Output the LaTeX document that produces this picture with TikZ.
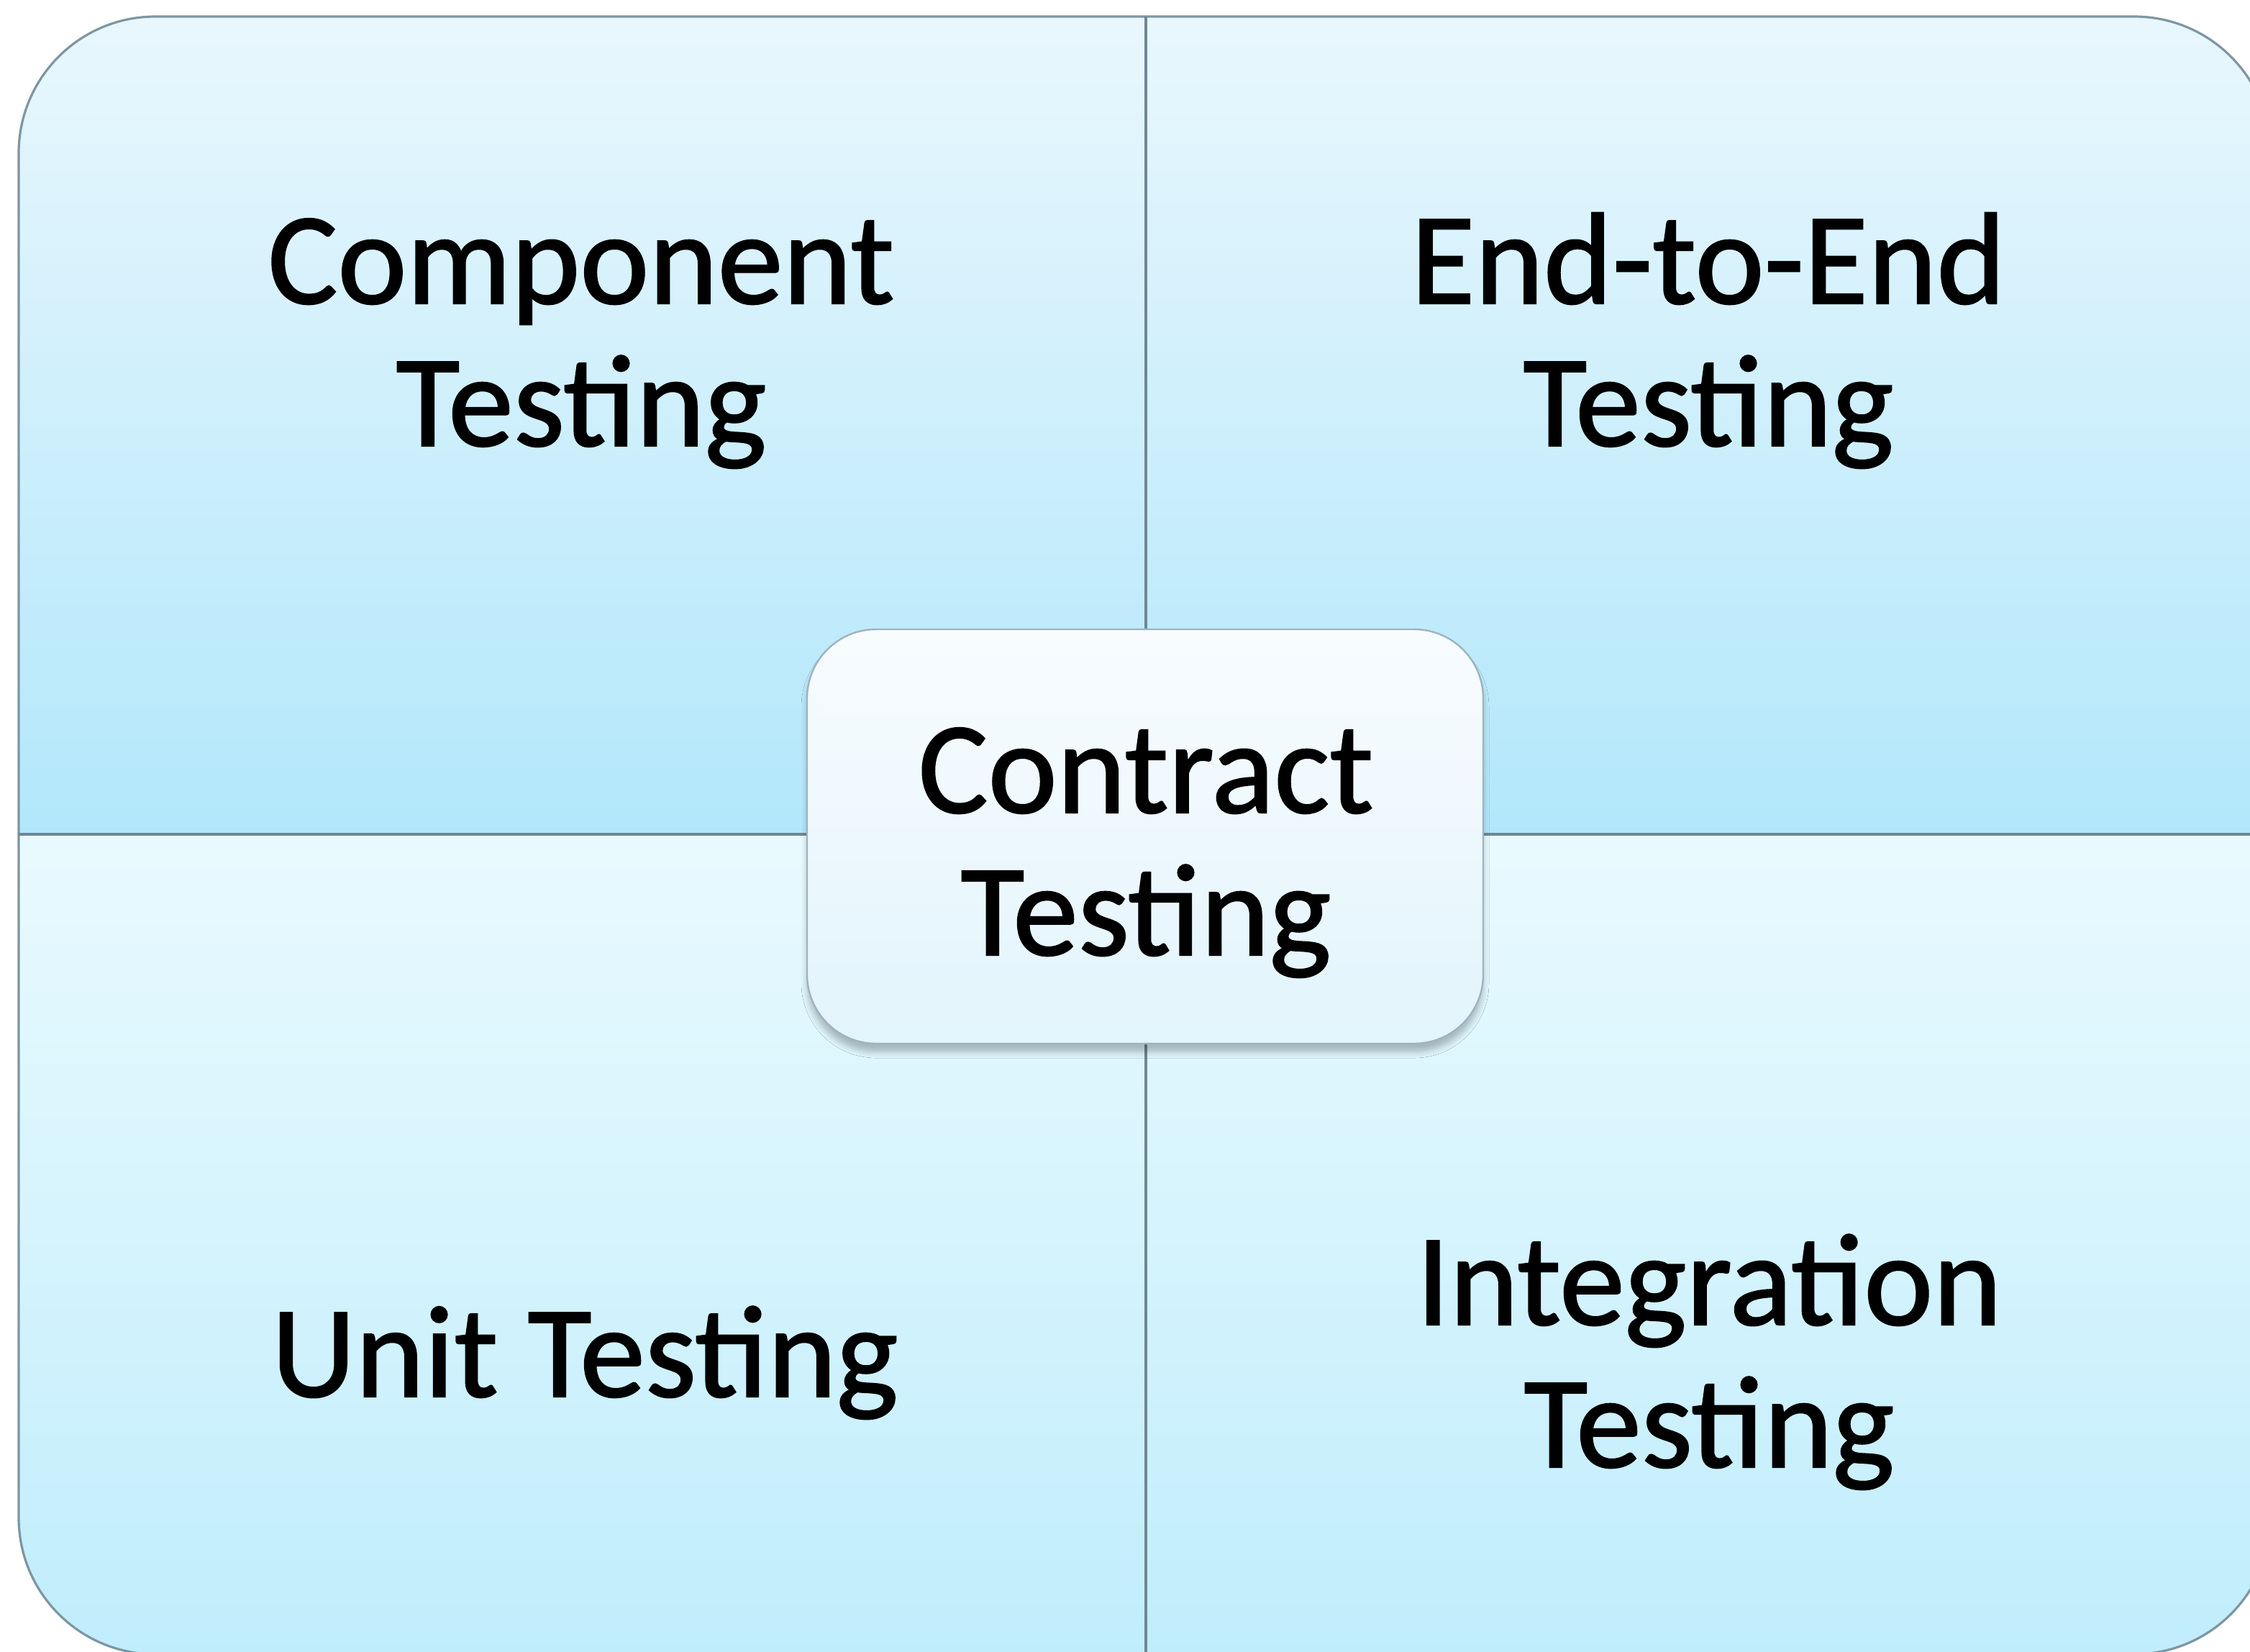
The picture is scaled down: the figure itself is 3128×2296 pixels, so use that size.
\documentclass[tikz,border=0pt]{standalone}
\usepackage{fontspec}
\setmainfont{Carlito}
\usetikzlibrary{shadows.blur}
\definecolor{qtoptop}{HTML}{E9F7FD}
\definecolor{qtopbot}{HTML}{B2E7FB}
\definecolor{qbottop}{HTML}{E9FAFE}
\definecolor{qbotbot}{HTML}{C0EDFC}
\definecolor{edgecol}{HTML}{7E96A2}
\definecolor{divcol}{HTML}{6F8795}
\definecolor{boxtop}{HTML}{F8FCFF}
\definecolor{boxbot}{HTML}{E2F4FC}
\definecolor{boxedge}{HTML}{9DB4C0}
\tikzset{
  lbl/.style={font=\fontsize{45.5}{49.5}\selectfont\addfontfeature{FakeBold=1.2}, align=center, anchor=base, inner sep=0pt, text=black},
  outeredge/.style={draw=edgecol, line width=0.8pt},
  divider/.style={draw=divcol, line width=1pt},
  centerbox/.style={draw=boxedge, line width=0.6pt, rounded corners=24pt,
    top color=boxtop, bottom color=boxbot,
    minimum width=235pt, minimum height=144pt, inner sep=0pt,
    blur shadow={shadow xshift=0pt, shadow yshift=-3pt, shadow blur radius=2pt, shadow opacity=25}}
}
\begin{document}
\begin{tikzpicture}[x=0.25pt, y=-0.25pt]
\useasboundingbox (0,0) rectangle (3128,2296);
\begin{scope}
  \clip[rounded corners=47.5pt] (26,23) rectangle (3157,2300);
  \shade[top color=qtoptop, bottom color=qtopbot] (26,23) rectangle (1593,1160);
  \shade[top color=qtoptop, bottom color=qtopbot] (1593,23) rectangle (3157,1160);
  \shade[top color=qbottop, bottom color=qbotbot] (26,1160) rectangle (1593,2300);
  \shade[top color=qbottop, bottom color=qbotbot] (1593,1160) rectangle (3157,2300);
\end{scope}
\draw[outeredge, rounded corners=47.5pt] (26,23) rectangle (3157,2300);
\coordinate (vtop) at (1593,23);
\coordinate (vbot) at (1593,2300);
\coordinate (hleft) at (26,1160);
\coordinate (hright) at (3157,1160);
\draw[divider] (vtop) -- (vbot);
\draw[divider] (hleft) -- (hright);
\node[lbl] (comp) at (808,620) {Component\\Testing};
\node[lbl] (e2e) at (2375,620) {End-to-End\\Testing};
\node[lbl] (unit) at (813,1942) {Unit Testing};
\node[lbl] (integ) at (2376,2040) {Integration\\Testing};
\node[centerbox] (cbox) at (1592,1163) {};
\node[lbl] (contract) at (1593,1328) {Contract\\Testing};
\end{tikzpicture}
\end{document}
